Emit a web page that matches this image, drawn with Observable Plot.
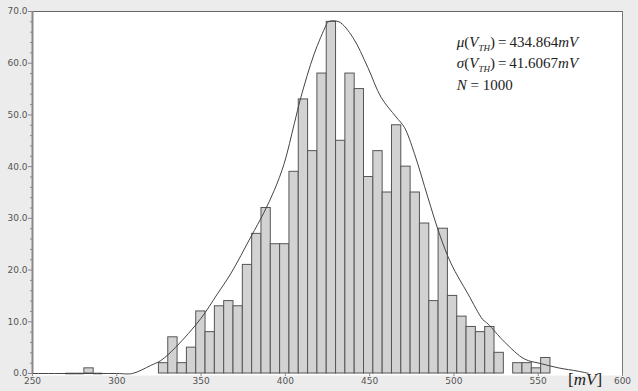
<!DOCTYPE html>
<html><head><meta charset="utf-8">
<script src="https://cdn.jsdelivr.net/npm/d3@7"></script>
<script src="https://cdn.jsdelivr.net/npm/@observablehq/plot@0.6"></script>
<style>
html,body{margin:0;padding:0;background:#ececec;}
</style></head><body><div id="chart"></div>
<script>
// Histogram bins (index relative to the first main bin) and counts
const binStart = 325.0;
const binWidth = 5.53;
const binIndex = [-10,-9,-8,-7,
  0,1,2,3,4,5,6,7,8,9,10,11,12,13,14,15,16,17,18,19,20,
  21,22,23,24,25,26,27,28,29,30,31,32,33,34,35,36,38,39,40,41];
const counts = [0,0,1,0,
  2,7,2,5,12,8,13,14,13,21,27,32,25,25,39,53,43,58,68,45,58,
  55,38,43,35,48,40,35,29,14,28,15,11,9,8,9,4,2,2,1,3];

// Fitted curve
const fitX = [250,300,309.2,320.1,326.1,335.0,349.8,359.7,367.6,379.5,387.4,393.4,399.3,405.3,409.2,417.1,424.1,425.3,431.8,440.0,448.9,456.8,465.7,470.6,476.6,484.5,491.4,498.4,508.3,517.2,520.2,530.0,541.9,551.8,561.8,573.6,579.6];
const fitY = [0,0,0,1.55,2.5,5.1,10.6,15.4,19.3,26.4,31.2,35.4,40.6,48.3,53.4,61.8,67.3,68,68,65,59.2,53.4,49.6,47.6,42.5,34.1,27,21.2,15.4,10.4,9.6,6.1,2.8,1.9,1.1,0.45,0.05];

const xTicks = [250,300,350,400,450,500,550,600];
const yTicks = [0,10,20,30,40,50,60,70];
const yMinor = [2,4,6,8,12,14,16,18,22,24,26,28,32,34,36,38,42,44,46,48,52,54,56,58,62,64,66,68];

const statValues = ["434.864", "41.6067", "1000"];

const bars = binIndex.map((b, i) => ({x1: binStart + b * binWidth, x2: binStart + (b + 1) * binWidth, n: counts[i]}));
const fit = fitX.map((x, i) => ({x, y: fitY[i]}));

const plot = Plot.plot({
  width: 638, height: 391,
  marginLeft: 32, marginRight: 16, marginTop: 11, marginBottom: 18,
  style: {background: "#ececec", fontFamily: "DejaVu Sans", fontSize: "9px", color: "#555"},
  x: {domain: [250, 600]},
  y: {domain: [0, 70]},
  marks: [
    Plot.frame({fill: "white", stroke: null, insetBottom: -2}),
    Plot.rect(bars.filter(d => d.n > 0), {x1: "x1", x2: "x2", y1: 0, y2: "n", fill: "#d2d2d2", stroke: "#555", strokeWidth: 1}),
    Plot.ruleY(bars.filter(d => d.n === 0), {x1: "x1", x2: "x2", y: 0, stroke: "#999", strokeWidth: 2}),
    Plot.line(fit, {x: "x", y: "y", stroke: "#444", strokeWidth: 1, curve: "catmull-rom"}),
    Plot.ruleY([70], {stroke: "#666"}),
    Plot.ruleX([600], {stroke: "#777"}),
    Plot.ruleX([250], {stroke: "#888", strokeWidth: 2}),
    Plot.axisY(yTicks, {tickFormat: d3.format(".1f"), tickSize: 4, tickPadding: 1, stroke: "#888", label: null}),
    Plot.axisY(yMinor, {tickSize: 2, tickFormat: () => "", stroke: "#888", label: null}),
    Plot.axisX(xTicks, {tickSize: 3, tickPadding: 1, stroke: "#888", label: null})
  ]
});
document.getElementById("chart").appendChild(plot);

const sx = plot.scale("x").apply, sy = plot.scale("y").apply;
const svg = d3.select(plot);
const g = svg.append("g").attr("font-family", "Liberation Serif").attr("font-size", 15)
  .attr("fill", "#222").attr("text-anchor", "start");
const ax = sx(502);
function statLine(y, sym, val, unit) {
  const t = g.append("text").attr("x", ax).attr("y", y);
  if (sym) {
    t.append("tspan").attr("font-style", "italic").text(sym);
    t.append("tspan").text("(");
    t.append("tspan").attr("font-style", "italic").text("V");
    t.append("tspan").attr("font-style", "italic").attr("font-size", 9).attr("dy", 4).text("TH");
    t.append("tspan").attr("dy", -4).text(")\u2009=\u2009" + val);
  } else {
    t.append("tspan").attr("font-style", "italic").text("N");
    t.append("tspan").text(" = " + val);
  }
  if (unit) t.append("tspan").attr("font-style", "italic").text("mV");
}
statLine(sy(63.1), "\u03bc", statValues[0], true);
statLine(sy(58.9), "\u03c3", statValues[1], true);
statLine(sy(54.7), null, statValues[2], false);

const u = svg.append("text").attr("x", sx(568)).attr("y", sy(-2.35)).attr("text-anchor", "start")
  .attr("font-family", "Liberation Serif").attr("font-size", 17).attr("fill", "#222");
u.append("tspan").text("[");
u.append("tspan").attr("font-style", "italic").text("mV");
u.append("tspan").text("]");
</script>
</body></html>
